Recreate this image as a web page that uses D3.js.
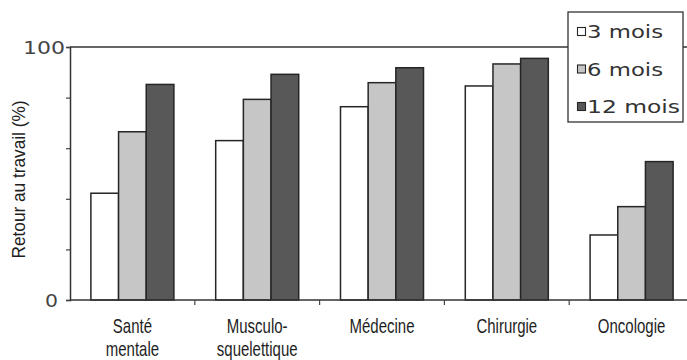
<!DOCTYPE html>
<html>
<head>
<meta charset="utf-8">
<script src="https://cdn.jsdelivr.net/npm/d3@7/dist/d3.min.js"></script>
<style>
  html, body { margin: 0; padding: 0; background: #fff; }
  svg { display: block; }
</style>
</head>
<body>
<svg id="chart" width="687" height="360"></svg>
<script>
// Return-to-work rate (%) by diagnosis group at 3, 6 and 12 months
const categories = [["Santé", "mentale"], ["Musculo-", "squelettique"], ["Médecine"], ["Chirurgie"], ["Oncologie"]];
const series = ["3 mois", "6 mois", "12 mois"];
const values3 = [42.2, 63.0, 76.4, 84.6, 25.7];
const values6 = [66.5, 79.3, 85.9, 93.3, 36.9];
const values12 = [85.2, 89.2, 91.8, 95.5, 54.7];
const yTicks = [0, 20, 40, 60, 80, 100];
const yLabels = ["0", "100"];
const yTitle = "Retour au travail (%)";

const seriesValues = [values3, values6, values12];
const fills = ["#ffffff", "#c6c6c6", "#585858"];
const stroke = "#262626";

const svg = d3.select("#chart");
const catKeys = categories.map(c => c.join(" "));

const x0 = d3.scaleBand().domain(catKeys).range([70, 694]).padding(0);
const x1 = d3.scaleBand().domain(series).range([0, x0.bandwidth()])
  .paddingInner(0).paddingOuter(0.755);
const y = d3.scaleLinear().domain([0, 100]).range([300, 47]);

// Bars
const groups = svg.append("g").selectAll("g")
  .data(catKeys)
  .join("g")
  .attr("transform", d => `translate(${x0(d)},0)`);

groups.selectAll("rect")
  .data((d, i) => series.map((s, j) => ({ s, j, v: seriesValues[j][i] })))
  .join("rect")
  .attr("x", d => x1(d.s))
  .attr("y", d => y(d.v))
  .attr("width", x1.bandwidth())
  .attr("height", d => y(0) - y(d.v))
  .attr("fill", d => fills[d.j])
  .attr("stroke", stroke)
  .attr("stroke-width", 1.5);

// Top reference line at 100
svg.append("line")
  .attr("x1", 70).attr("x2", 687)
  .attr("y1", y(100)).attr("y2", y(100))
  .attr("stroke", "#333").attr("stroke-width", 1.5);

// Y axis
const yAxis = svg.append("g")
  .attr("transform", "translate(70,0)")
  .call(d3.axisLeft(y).tickValues(yTicks).tickSize(4).tickFormat(""));
yAxis.select(".domain").attr("stroke", "#333").attr("stroke-width", 1.5);
yAxis.selectAll(".tick line").attr("stroke", "#444").attr("stroke-width", 1.2);

// Y tick labels (only the extremes are labelled)
svg.append("g").selectAll("text")
  .data(yLabels)
  .join("text")
  .attr("x", d => d === "100" ? 23 : 45)
  .attr("y", d => y(+d) + 6.5)
  .attr("textLength", d => d === "100" ? 42 : 13)
  .attr("lengthAdjust", "spacingAndGlyphs")
  .attr("font-family", "DejaVu Sans, sans-serif")
  .attr("font-size", 18)
  .attr("fill", "#444")
  .text(d => d);

// X axis with ticks between categories
const xAxisG = svg.append("g").attr("transform", `translate(0,${y(0)})`);
xAxisG.append("line")
  .attr("x1", 70).attr("x2", 687)
  .attr("stroke", "#333").attr("stroke-width", 1.5);
xAxisG.selectAll("line.tick")
  .data(catKeys.slice(1))
  .join("line")
  .attr("class", "tick")
  .attr("x1", d => x0(d)).attr("x2", d => x0(d))
  .attr("y1", 0).attr("y2", 5)
  .attr("stroke", "#444").attr("stroke-width", 1.2);

// Category labels (condensed)
const catLabels = svg.append("g").selectAll("g")
  .data(categories)
  .join("g")
  .attr("transform", (d, i) => `translate(${x0(catKeys[i]) + x0.bandwidth() / 2},0) scale(0.75,1)`);
catLabels.selectAll("text")
  .data(d => d)
  .join("text")
  .attr("x", 0)
  .attr("y", (d, i) => 333 + i * 23.5)
  .attr("text-anchor", "middle")
  .attr("font-family", "Liberation Sans, Arial, sans-serif")
  .attr("font-size", 20)
  .attr("fill", "#1e1e1e")
  .text(d => d);

// Y axis title
svg.append("text")
  .attr("transform", "translate(25,179.5) rotate(-90)")
  .attr("text-anchor", "middle")
  .attr("textLength", 158)
  .attr("lengthAdjust", "spacingAndGlyphs")
  .attr("font-family", "Liberation Sans, Arial, sans-serif")
  .attr("font-size", 18)
  .attr("fill", "#1e1e1e")
  .text(yTitle);

// Legend
const legend = svg.append("g");
legend.append("rect")
  .attr("x", 568).attr("y", 12)
  .attr("width", 115).attr("height", 110)
  .attr("fill", "#fff")
  .attr("stroke", "#333").attr("stroke-width", 1.3);
const rowY = d3.scalePoint().domain(series).range([31.5, 106.5]);
const items = legend.selectAll("g.item")
  .data(series)
  .join("g")
  .attr("class", "item")
  .attr("transform", d => `translate(0,${rowY(d)})`);
items.append("rect")
  .attr("x", 577.5).attr("y", -4)
  .attr("width", 8).attr("height", 8)
  .attr("fill", (d, i) => fills[i])
  .attr("stroke", stroke).attr("stroke-width", 1.1);
items.append("text")
  .attr("x", 587)
  .attr("y", 6.5)
  .attr("textLength", d => d.length > 6 ? 93 : 76)
  .attr("lengthAdjust", "spacingAndGlyphs")
  .attr("font-family", "DejaVu Sans, sans-serif")
  .attr("font-size", 18)
  .attr("fill", "#333")
  .text(d => d);
</script>
</body>
</html>
